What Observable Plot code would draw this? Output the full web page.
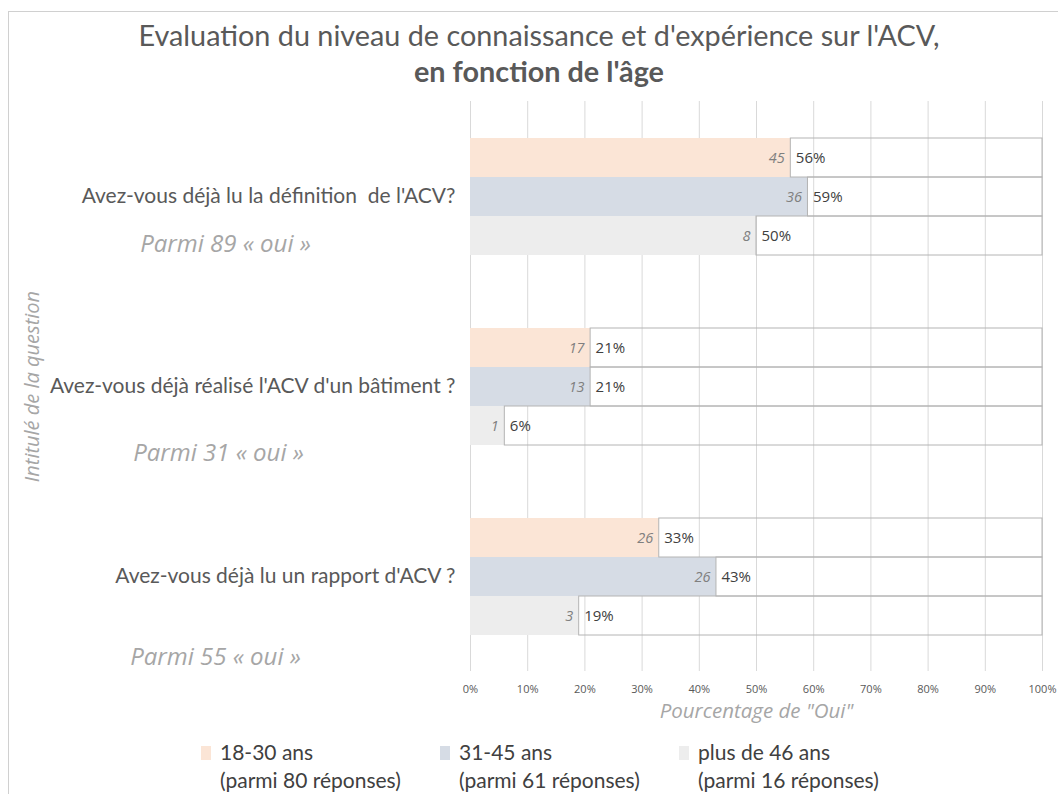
<!DOCTYPE html>
<html>
<head>
<meta charset="utf-8">
<script src="https://cdn.jsdelivr.net/npm/d3@7"></script>
<script src="https://cdn.jsdelivr.net/npm/@observablehq/plot@0.6"></script>
<style>
  body { margin: 0; background: #fff; font-family: Lato, "Open Sans", sans-serif; }
  #border { position: absolute; left: 8px; top: 11px; width: 1200px; height: 900px; border: 1px solid #d0d0d0; box-sizing: border-box; }
  #title { position: absolute; left: 8px; width: 1062px; top: 17px; text-align: center; color: #595959; font-size: 28.8px; line-height: 36px; }
  #title b { font-weight: 700; }
  #chart { position: absolute; left: 0; top: 89px; }
  .leg { position: absolute; top: 738px; color: #404040; font-size: 21px; line-height: 28px; }
  .leg .sw { position: absolute; left: 0; top: 8px; width: 10px; height: 14px; }
  .leg .tx { position: absolute; left: 19px; white-space: nowrap; }
</style>
</head>
<body>
<div id="border"></div>
<div id="title">Evaluation du niveau de connaissance et d'expérience sur l'ACV,<br><b>en fonction de l'âge</b></div>
<div id="chart"></div>
<div id="legend"></div>
<script>
// ---- Data ----
const questions = [
  "Avez-vous déjà lu la définition  de l'ACV?",
  "Avez-vous déjà réalisé l'ACV d'un bâtiment ?",
  "Avez-vous déjà lu un rapport d'ACV ?"
];
const notes = ["Parmi 89 « oui »", "Parmi 31 « oui »", "Parmi 55 « oui »"];
const ages = ["18-30 ans", "31-45 ans", "plus de 46 ans"];
const ageSub = ["(parmi 80 réponses)", "(parmi 61 réponses)", "(parmi 16 réponses)"];
const pct18_30 = [56, 21, 33];
const pct31_45 = [59, 21, 43];
const pct46 = [50, 6, 19];
const n18_30 = [45, 17, 26];
const n31_45 = [36, 13, 26];
const n46 = [8, 1, 3];
const xTicks = [0, 10, 20, 30, 40, 50, 60, 70, 80, 90, 100];
const xTitle = 'Pourcentage de "Oui"';
const yTitle = "Intitulé de la question";
const colors = ["#FBE5D6", "#D6DCE5", "#EDEDED"];

const series = [[pct18_30, n18_30], [pct31_45, n31_45], [pct46, n46]];
const rows = [];
questions.forEach((q, i) => {
  series.forEach(([p, n], j) => rows.push({question: q, age: ages[j], pct: p[i], n: n[i]}));
});

// label placement offsets (style)
const noteDx = [-245, -252, -255];
const noteDy = [48, 67, 81];

const font = "'Open Sans', Lato, sans-serif";

const plot = Plot.plot({
  width: 1058,
  height: 643,
  marginLeft: 470,
  marginRight: 16,
  marginTop: 11,
  marginBottom: 60,
  style: {fontFamily: font, fontSize: "11px", color: "#595959", background: "transparent", overflow: "visible"},
  x: {domain: [0, 100], ticks: xTicks, tickFormat: d => d + "%", tickSize: 0, tickPadding: 14, label: null},
  y: {domain: ages, axis: null, paddingInner: 0, paddingOuter: 0.9},
  fy: {domain: questions, axis: null, padding: 0},
  color: {domain: ages, range: colors},
  marks: [
    Plot.ruleX(xTicks, {stroke: "#D9D9D9", strokeWidth: 1}),
    Plot.barX(rows, {fy: "question", y: "age", x: "pct", fill: "age"}),
    Plot.barX(rows, {fy: "question", y: "age", x1: "pct", x2: () => 100, fill: "none", stroke: "#B4B4B4", strokeWidth: 1}),
    Plot.text(rows, {fy: "question", y: "age", x: "pct", text: d => String(d.n), dx: -6, textAnchor: "end", fill: "#7F7F7F", fontStyle: "italic", fontSize: 14.5}),
    Plot.text(rows, {fy: "question", y: "age", x: "pct", text: d => d.pct + "%", dx: 5, textAnchor: "start", fill: "#404040", fontSize: 15}),
    Plot.text(questions, {fy: d => d, text: d => d, frameAnchor: "left", dx: -15, textAnchor: "end", fill: "#595959", fontSize: 21, fontFamily: "Lato, 'Open Sans', sans-serif"}),
    ...notes.map((t, i) => Plot.text([t], {fy: () => questions[i], text: d => d, frameAnchor: "left", dx: noteDx[i], dy: noteDy[i], textAnchor: "middle", fill: "#A6A6A6", fontStyle: "italic", fontSize: 24})),
    Plot.text([yTitle], {fy: () => questions[1], text: d => d, frameAnchor: "left", dx: -438, rotate: -90, textAnchor: "middle", fill: "#A6A6A6", fontStyle: "italic", fontSize: 20}),
    Plot.text([xTitle], {fy: () => questions[2], text: d => d, frameAnchor: "bottom", dy: 46, textAnchor: "middle", fill: "#A6A6A6", fontStyle: "italic", fontSize: 20.5})
  ]
});
document.getElementById("chart").appendChild(plot);

// ---- Legend ----
const legLeft = [201, 440, 679];
const legend = document.getElementById("legend");
ages.forEach((a, i) => {
  const d = document.createElement("div");
  d.className = "leg";
  d.style.left = legLeft[i] + "px";
  d.innerHTML = `<span class="sw" style="background:${colors[i]}"></span><span class="tx">${a}<br>${ageSub[i]}</span>`;
  legend.appendChild(d);
});
</script>
</body>
</html>
